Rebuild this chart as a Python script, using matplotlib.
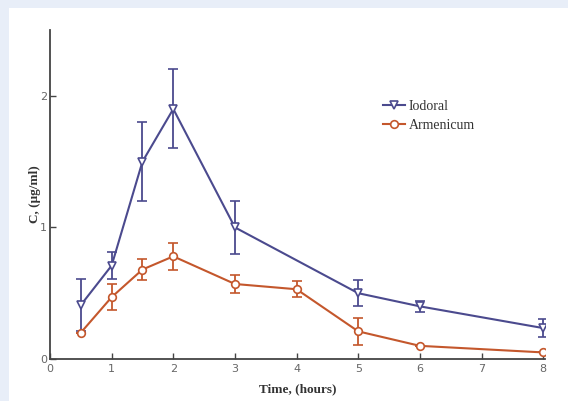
import matplotlib.pyplot as plt
from matplotlib.patches import Rectangle

# Iodoral series (no sample at 4 h)
iod_t = [0.5, 1, 1.5, 2, 3, 5, 6, 8]
iod_c = [0.41, 0.71, 1.5, 1.9, 1.0, 0.5, 0.4, 0.235]
iod_err = [0.2, 0.1, 0.3, 0.3, 0.2, 0.1, 0.04, 0.07]

# Armenicum series
arm_t = [0.5, 1, 1.5, 2, 3, 4, 5, 6, 8]
arm_c = [0.2, 0.47, 0.68, 0.78, 0.57, 0.53, 0.21, 0.10, 0.05]
arm_err = [0.0, 0.1, 0.08, 0.1, 0.07, 0.06, 0.1, 0.0, 0.0]

blue = '#4b4a8e'
orange = '#c4572c'
serif = 'Liberation Serif'

fig = plt.figure(figsize=(5.68, 4.01), dpi=100)
fig.patch.set_facecolor('#e8eef8')
fig.patches.append(Rectangle((9 / 568, 0), 1, 1 - 8 / 401, transform=fig.transFigure,
                             facecolor='white', edgecolor='none', zorder=-10))

ax = fig.add_axes([50 / 568, 1 - 359 / 401, 495 / 568, 329 / 401])
ax.set_facecolor('none')

iod = ax.errorbar(iod_t, iod_c, yerr=iod_err, color=blue, marker='v', markersize=5.5,
                  markerfacecolor='white', markeredgewidth=1.2, linewidth=1.5,
                  capsize=3.5, elinewidth=1.3, capthick=1.3)
arm = ax.errorbar(arm_t, arm_c, yerr=arm_err, color=orange, marker='o', markersize=5.5,
                  markerfacecolor='white', markeredgewidth=1.2, linewidth=1.5,
                  capsize=3.5, elinewidth=1.3, capthick=1.3)

ax.set_xlim(0, 8.03)
ax.set_ylim(0, 2.5)
ax.set_xticks(range(0, 9))
ax.set_yticks([0, 1, 2])
for s in ['top', 'right']:
    ax.spines[s].set_visible(False)
for s in ['left', 'bottom']:
    ax.spines[s].set_color('#444444')
    ax.spines[s].set_linewidth(1.3)
ax.tick_params(direction='in', length=4, width=1, color='#444444',
               labelsize=8, labelcolor='#666666')
ax.tick_params(axis='y', pad=2)

ax.set_xlabel('Time, (hours)', family=serif, fontweight='bold', fontsize=9.5,
              color='#333333', labelpad=7)
ax.set_ylabel('C, (μg/ml)', family=serif, fontweight='bold', fontsize=9.5,
              color='#333333', labelpad=-1)

leg = ax.legend([iod[0], arm[0]], ['Iodoral', 'Armenicum'], loc='upper left',
                bbox_to_anchor=(320 / 495, 0.825), frameon=False,
                prop={'family': serif, 'size': 10}, handlelength=1.6,
                handletextpad=0.3, labelspacing=0.45)
for t in leg.get_texts():
    t.set_color('#333333')

fig.savefig('out.png', dpi=100, facecolor=fig.get_facecolor())
